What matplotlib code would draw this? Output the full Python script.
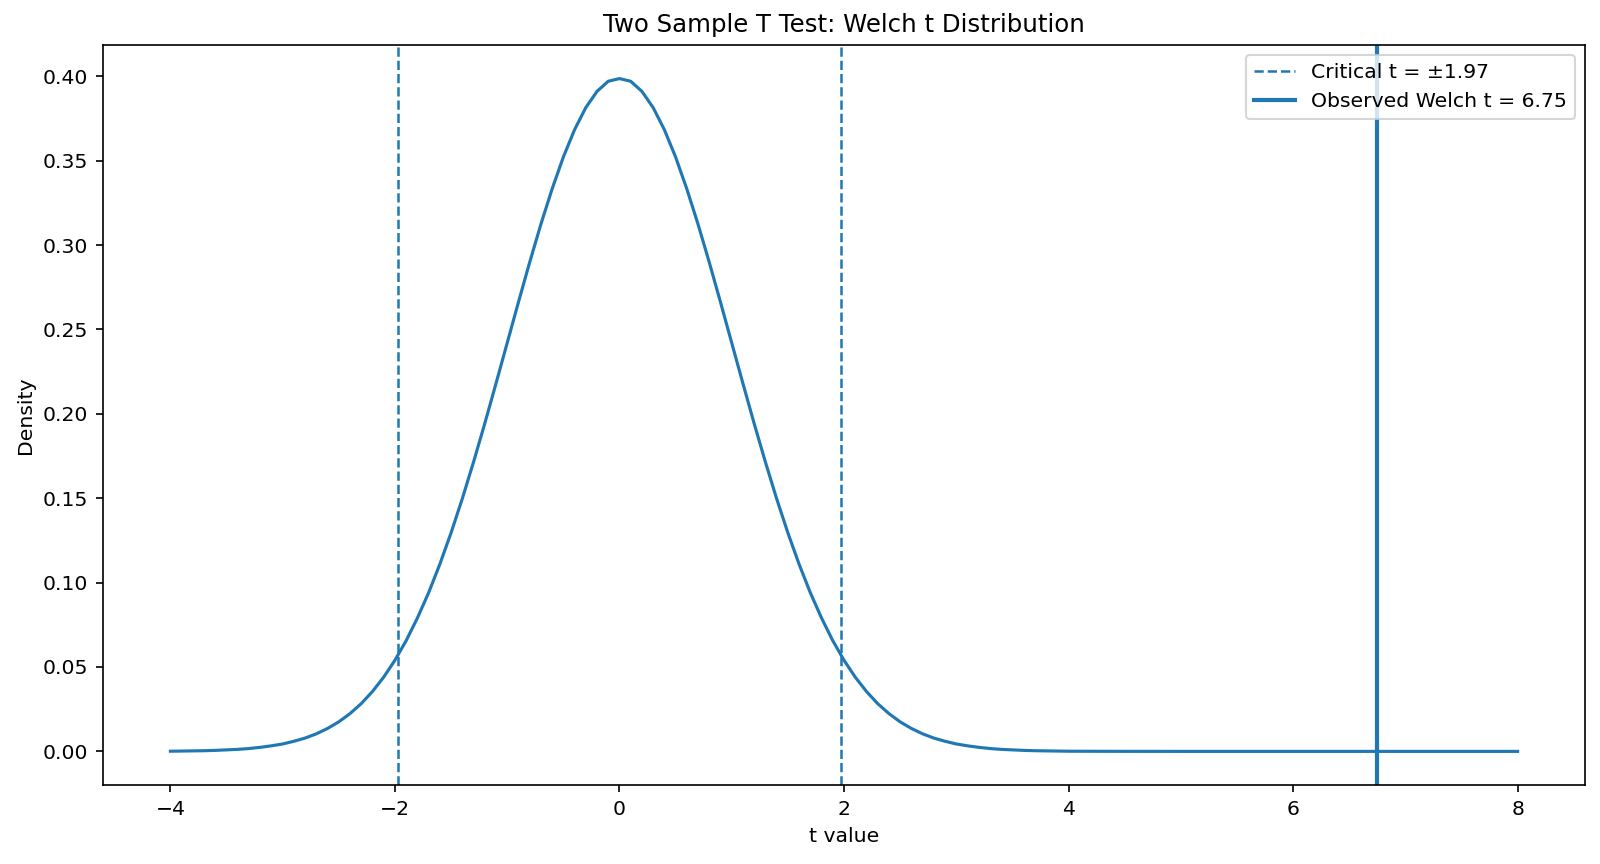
import matplotlib
matplotlib.use("Agg")
import matplotlib.pyplot as plt

plt.rcParams["font.size"] = 9.75

# Density curve values
t_values = [-4.0, -3.9, -3.8, -3.7, -3.6, -3.5, -3.4, -3.3, -3.2, -3.1,
            -3.0, -2.9, -2.8, -2.7, -2.6, -2.5, -2.4, -2.3, -2.2, -2.1,
            -2.0, -1.9, -1.8, -1.7, -1.6, -1.5, -1.4, -1.3, -1.2, -1.1,
            -1.0, -0.9, -0.8, -0.7, -0.6, -0.5, -0.4, -0.3, -0.2, -0.1,
            0.0, 0.1, 0.2, 0.3, 0.4, 0.5, 0.6, 0.7, 0.8, 0.9,
            1.0, 1.1, 1.2, 1.3, 1.4, 1.5, 1.6, 1.7, 1.8, 1.9,
            2.0, 2.1, 2.2, 2.3, 2.4, 2.5, 2.6, 2.7, 2.8, 2.9,
            3.0, 3.1, 3.2, 3.3, 3.4, 3.5, 3.6, 3.7, 3.8, 3.9,
            4.0, 4.5, 5.0, 6.0, 7.0, 8.0]
density = [0.0001, 0.0002, 0.0003, 0.0004, 0.0006, 0.0009, 0.0012, 0.0017, 0.0024, 0.0033,
           0.0044, 0.0060, 0.0079, 0.0104, 0.0136, 0.0175, 0.0224, 0.0283, 0.0355, 0.0440,
           0.0540, 0.0656, 0.0790, 0.0940, 0.1109, 0.1295, 0.1497, 0.1714, 0.1942, 0.2179,
           0.2420, 0.2661, 0.2897, 0.3123, 0.3332, 0.3521, 0.3683, 0.3814, 0.3910, 0.3970,
           0.3986, 0.3970, 0.3910, 0.3814, 0.3683, 0.3521, 0.3332, 0.3123, 0.2897, 0.2661,
           0.2420, 0.2179, 0.1942, 0.1714, 0.1497, 0.1295, 0.1109, 0.0940, 0.0790, 0.0656,
           0.0540, 0.0440, 0.0355, 0.0283, 0.0224, 0.0175, 0.0136, 0.0104, 0.0079, 0.0060,
           0.0044, 0.0033, 0.0024, 0.0017, 0.0012, 0.0009, 0.0006, 0.0004, 0.0003, 0.0002,
           0.0001, 0.00002, 0.0, 0.0, 0.0, 0.0]
critical_t = 1.97
observed_t = 6.75

color = "#1f77b4"
fig = plt.figure(figsize=(16 / 1.5, 8.64 / 1.5), dpi=150)
ax = fig.add_axes([0.0644, 0.0914, 0.9262, 0.8566])
ax.plot(t_values, density, color=color, lw=1.5)
ax.axvline(-critical_t, color=color, ls="--", lw=1.2, label=f"Critical t = ±{critical_t:.2f}")
ax.axvline(critical_t, color=color, ls="--", lw=1.2)
ax.axvline(observed_t, color=color, lw=2, label=f"Observed Welch t = {observed_t:.2f}")
ax.set_title("Two Sample T Test: Welch t Distribution")
ax.set_xlabel("t value")
ax.set_ylabel("Density")
ax.legend(loc="upper right")
fig.savefig("out.png", dpi=150)
